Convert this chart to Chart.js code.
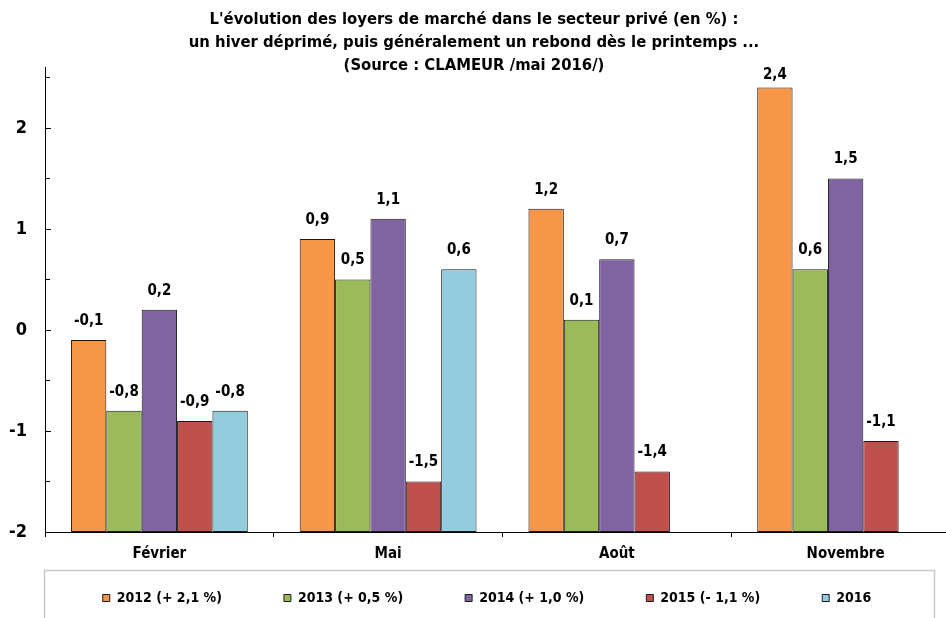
<!DOCTYPE html>
<html>
<head>
<meta charset="utf-8">
<script src="https://cdn.jsdelivr.net/npm/chart.js@4.4.1/dist/chart.umd.min.js"></script>
<style>
html, body { margin: 0; padding: 0; background: #fff; overflow: hidden; }
#wrap { width: 946px; height: 618px; overflow: hidden; }
</style>
</head>
<body>
<div id="wrap"><canvas id="loyers" width="960" height="618"></canvas></div>
<script>
// months on the x axis
const months = ['Février', 'Mai', 'Août', 'Novembre'];
// legend texts
const years = ['2012 (+ 2,1 %)', '2013 (+ 0,5 %)', '2014 (+ 1,0 %)', '2015 (- 1,1 %)', '2016'];
// values in %
const v2012 = [-0.1, 0.9, 1.2, 2.4];
const v2013 = [-0.8, 0.5, 0.1, 0.6];
const v2014 = [0.2, 1.1, 0.7, 1.5];
const v2015 = [-0.9, -1.5, -1.4, -1.1];
const v2016 = [-0.8, 0.6, null, null];
const yLabels = [-2, -1, 0, 1, 2];
const titleLines = [
    "L'évolution des loyers de marché dans le secteur privé (en %) :",
    "un hiver déprimé, puis généralement un rebond dès le printemps ...",
    "(Source : CLAMEUR /mai 2016/)"
];

const colors = ['#F79646', '#9BBB59', '#8064A2', '#C0504D', '#93CDDD'];
const FF = "'Liberation Sans Narrow', 'Arial Narrow', 'DejaVu Sans Condensed', sans-serif";

const series = [v2012, v2013, v2014, v2015, v2016];

let userData = {
    labels: months,
    datasets: series.map((vals, i) => ({
        label: years[i],
        data: vals,
        backgroundColor: colors[i],
        borderColor: '#1a1a1a',
        borderWidth: 1,
        borderSkipped: false,
        base: -2
    }))
};

// inner tick marks on the y axis (every 0.5)
const innerTicks = {
    id: 'innerTicks',
    afterDraw(chart) {
        const y = chart.scales.y;
        const ctx = chart.ctx;
        ctx.save();
        ctx.strokeStyle = '#000';
        ctx.lineWidth = 1;
        for (let v = -1.5; v <= 2.5; v += 0.5) {
            const py = Math.round(y.getPixelForValue(v)) + 0.5;
            const len = Number.isInteger(v) ? 6 : 5;
            ctx.beginPath();
            ctx.moveTo(y.right, py);
            ctx.lineTo(y.right + len, py);
            ctx.stroke();
        }
        ctx.restore();
    }
};

// value labels above each bar
const barLabels = {
    id: 'barLabels',
    afterDatasetsDraw(chart) {
        const ctx = chart.ctx;
        ctx.save();
        ctx.font = 'bold 15px ' + FF;
        ctx.fillStyle = '#000';
        ctx.textAlign = 'center';
        ctx.textBaseline = 'middle';
        chart.data.datasets.forEach((ds, i) => {
            chart.getDatasetMeta(i).data.forEach((bar, j) => {
                const v = ds.data[j];
                if (v === null) return;
                const ty = Math.max(bar.y - 19, chart.chartArea.top + 8);
                ctx.fillText(v.toFixed(1).replace('.', ','), bar.x, ty);
            });
        });
        ctx.restore();
    }
};

// legend: keep its wide item spacing but let it sit under the x labels
const LEG_PAD = 62;
const legendLayout = {
    id: 'legendLayout',
    beforeLayout(chart) {
        const leg = chart.legend;
        if (leg && !leg._patched) {
            const fit = leg.fit;
            leg.fit = function () { fit.call(this); this.height = 47; };
            leg._patched = true;
        }
    },
    afterLayout(chart) {
        const leg = chart.legend;
        leg.top = 591 - LEG_PAD;
        leg.bottom = leg.top + 90;
        leg.left += 7;
        leg.right += 7;
        // the title is centred on the visible window, not on the wider canvas
        chart.titleBlock.left -= 6;
        chart.titleBlock.right -= 6;
    },
    afterDraw(chart) {
        // grey frame round the legend
        const ctx = chart.ctx;
        ctx.save();
        ctx.strokeStyle = '#c8c8c8';
        ctx.lineWidth = 1.5;
        ctx.strokeRect(44.5, 570.5, 890, 80);
        ctx.restore();
    }
};

let ctx = document.getElementById('loyers').getContext('2d');
let chart = new Chart(ctx, {
    type: 'bar',
    data: userData,
    plugins: [innerTicks, barLabels, legendLayout],
    options: {
        responsive: false,
        animation: false,
        layout: { padding: 0 },
        datasets: {
            bar: { categoryPercentage: 0.773, barPercentage: 1 }
        },
        scales: {
            x: {
                grid: { display: true, drawOnChartArea: false, drawTicks: true, tickLength: 5, offset: true, color: '#000' },
                border: { display: true, color: '#000', width: 1 },
                ticks: { color: '#000', padding: 8, font: { family: FF, size: 15, weight: 'bold' } }
            },
            y: {
                min: -2,
                max: 2.6,
                grid: { display: false, drawTicks: false },
                border: { display: true, color: '#000', width: 1 },
                ticks: {
                    stepSize: 0.5,
                    padding: 18,
                    color: '#000',
                    font: { family: FF, size: 18, weight: 'bold' },
                    callback: v => yLabels.includes(v) ? String(v) : ''
                },
                afterFit: s => { s.width = 45; }
            }
        },
        plugins: {
            title: {
                display: true,
                text: titleLines,
                color: '#000',
                font: { family: FF, size: 16.5, weight: 'bold', lineHeight: 1.4 },
                padding: { top: 8, bottom: -10 }
            },
            legend: {
                position: 'bottom',
                labels: {
                    boxWidth: 7,
                    boxHeight: 7,
                    padding: LEG_PAD,
                    color: '#000',
                    font: { family: FF, size: 14, weight: 'bold' }
                }
            },
            tooltip: { enabled: false }
        }
    }
});
</script>
</body>
</html>
